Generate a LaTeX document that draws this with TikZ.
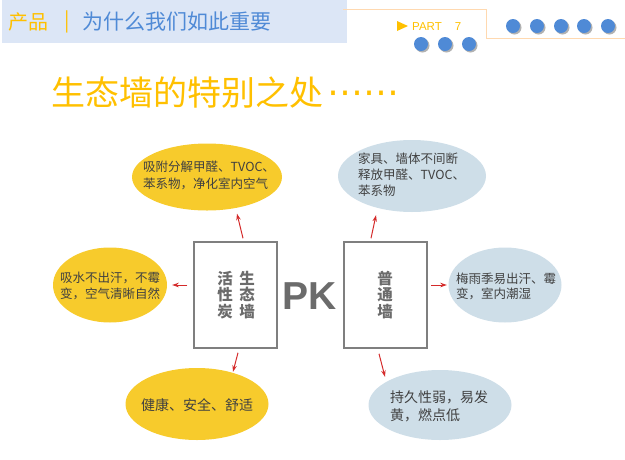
\documentclass[tikz,border=0pt]{standalone}
\usepackage{fontspec}
\setmainfont{Noto Sans CJK SC}
\newfontfamily\latinb{Liberation Sans}
\newfontfamily\dejavu{DejaVu Sans}
\usetikzlibrary{shapes.geometric,arrows.meta}
\definecolor{gold}{HTML}{FFC000}
\definecolor{hblue}{HTML}{4F8AD6}
\definecolor{bandc}{HTML}{DCE6F6}
\definecolor{linec}{HTML}{FFD9B0}
\definecolor{dotc}{HTML}{4F8AD6}
\definecolor{yell}{HTML}{F7CB2C}
\definecolor{lblue}{HTML}{CEDEE8}
\definecolor{txtc}{HTML}{404040}
\definecolor{boxc}{HTML}{7F7F7F}
\definecolor{boxtxt}{HTML}{6B6B6B}
\definecolor{arrc}{HTML}{D42A2A}
\tikzset{
  bubY/.style={ellipse, fill=yell, inner sep=0pt},
  bubB/.style={ellipse, fill=lblue, inner sep=0pt},
  bubtxt/.style={anchor=west, text=txtc, align=left, inner sep=0pt, font=\fontsize{12.5}{17}\selectfont},
  wallbox/.style={rectangle, draw=boxc, line width=1.5pt, minimum width=83pt, minimum height=106pt, inner sep=0pt},
  walltxt/.style={text=boxtxt, align=center, font=\bfseries\fontsize{15.5}{16.5}\selectfont, inner sep=0pt},
  arr/.style={draw=arrc, line width=1pt, -{Stealth[length=6.5pt,width=4.5pt]}},
  dotshadow/.style={fill=gray!60, draw=none},
  dotfill/.style={fill=dotc, draw=none},
}
\begin{document}
\begin{tikzpicture}[x=1pt,y=-1pt]
\useasboundingbox (0,0) rectangle (625,459);
% header band
\fill[bandc] (2,0) rectangle (347,43);
\node[anchor=west, text=gold, font=\fontsize{20}{20}\selectfont, inner sep=0pt] (hprod) at (8,22) {产品};
\node[anchor=center, text=gold, font=\fontsize{20}{20}\selectfont, inner sep=0pt] (hbar) at (67,22) {|};
\node[anchor=west, text=hblue, font=\fontsize{21}{21}\selectfont, inner sep=0pt] (htitle) at (82,22) {为什么我们如此重要};
% orange line
\draw[linec, line width=1pt] (343,9) -- (486,9) -- (486,38) -- (625,38);
% PART 7
\fill[gold] (397,21) -- (408,26) -- (397,31) -- cycle;
\node[anchor=west, text=gold, font=\latinb\fontsize{11.5}{11.5}\selectfont, inner sep=0pt] (part) at (412,27) {PART\hspace{13pt}7};
% dots
\foreach \cx/\cy in {513/26,537/26,561/26,584/26,608/26,421/44,445/44,469/44}{
  \fill[dotshadow] (\cx+1.5,\cy+1.5) circle (7);
  \fill[dotfill] (\cx,\cy) circle (7);
}
% title
\node[anchor=west, text=gold, font=\fontsize{34}{34}\selectfont, inner sep=0pt] (maintitle) at (51,93) {生态墙的特别之处\hspace{4pt}\raisebox{1.5pt}{\dejavu\fontsize{36}{36}\selectfont ⋯⋯}};
% boxes
\node[wallbox] (lbox) at (235.5,295) {};
\node[walltxt] (lcol1) at (225,295) {活\\性\\炭};
\node[walltxt] (lcol2) at (247,295) {生\\态\\墙};
\node[wallbox] (rbox) at (385.5,295) {};
\node[walltxt] (rcol) at (385,295) {普\\通\\墙};
\node[text=boxtxt, font=\latinb\bfseries\fontsize{39}{39}\selectfont, inner sep=0pt] (pk) at (310,296) {PK};
% bubbles
\node[bubY, minimum width=150pt, minimum height=67pt] (e1) at (207,177) {};
\node[bubtxt] (t1) at (143,175) {吸附分解甲醛、TVOC、\\苯系物，净化室内空气};
\node[bubB, minimum width=148pt, minimum height=72pt] (e2) at (412,176) {};
\node[bubtxt, font=\fontsize{12.5}{16}\selectfont] (t2) at (358,175) {家具、墙体不间断\\释放甲醛、TVOC、\\苯系物};
\node[bubY, minimum width=114pt, minimum height=75pt] (e3) at (110,285) {};
\node[bubtxt, font=\fontsize{12.5}{16}\selectfont] (t3) at (60,286) {吸水不出汗，不霉\\变，空气清晰自然};
\node[bubB, minimum width=113pt, minimum height=75pt] (e4) at (505,285) {};
\node[bubtxt, font=\fontsize{12.5}{15}\selectfont] (t4) at (456,286) {梅雨季易出汗、霉\\变，室内潮湿};
\node[bubY, minimum width=143pt, minimum height=72pt] (e5) at (197,404) {};
\node[bubtxt, font=\fontsize{14}{17}\selectfont] (t5) at (141,405) {健康、安全、舒适};
\node[bubB, minimum width=143pt, minimum height=70pt] (e6) at (440,405) {};
\node[bubtxt, font=\fontsize{14}{18}\selectfont] (t6) at (390,406) {持久性弱，易发\\黄，燃点低};
% arrows
\draw[arr] ([xshift=7.5pt,yshift=3pt]lbox.north) -- ([xshift=30pt,yshift=-3pt]e1.south);
\draw[arr] ([xshift=-6pt,yshift=10pt]lbox.west) -- ([xshift=5pt]e3.east);
\draw[arr] ([xshift=2.5pt,yshift=-4pt]lbox.south) -- ([xshift=36pt,yshift=-4pt]e5.north);
\draw[arr] ([xshift=-14.5pt,yshift=3pt]rbox.north) -- ([xshift=-36pt,yshift=-3pt]e2.south);
\draw[arr] ([xshift=3pt,yshift=10pt]rbox.east) -- ([xshift=-1.5pt]e4.west);
\draw[arr] ([xshift=-6.5pt,yshift=-5pt]rbox.south) -- ([xshift=-55pt,yshift=-7pt]e6.north);
\end{tikzpicture}
\end{document}
